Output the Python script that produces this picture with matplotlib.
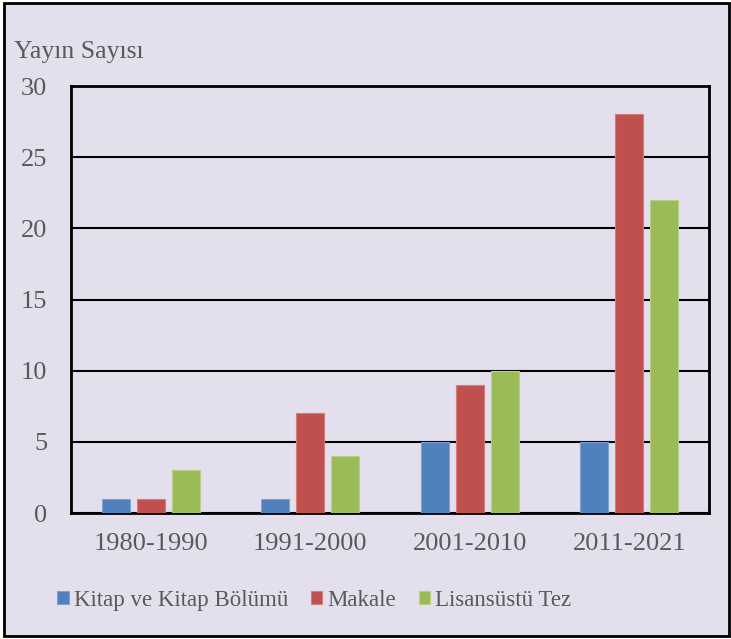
import matplotlib.pyplot as plt
from matplotlib.patches import Rectangle
import numpy as np

# data
periods = ["1980-1990", "1991-2000", "2001-2010", "2011-2021"]
kitap = [1, 1, 5, 5]
makale = [1, 7, 9, 28]
tez = [3, 4, 10, 22]
series_names = ["Kitap ve Kitap Bölümü", "Makale", "Lisansüstü Tez"]
colors = ["#4F81BD", "#C0504D", "#9BBB59"]
edge_colors = ["#7FA3D1", "#D27D7B", "#B7CF86"]

bg = "#E4DFEC"
txt = "#595959"

plt.rcParams['font.family'] = ['Liberation Serif', 'DejaVu Serif']

fig = plt.figure(figsize=(7.31, 6.39), dpi=100, facecolor="white")
# outer frame, drawn under the axes
fig.patches.append(Rectangle((0.006, 0.004), 0.991, 0.991, transform=fig.transFigure,
                             facecolor=bg, edgecolor="black", linewidth=2, zorder=-1))

ax = fig.add_axes([0.0971, 0.197, 0.8729, 0.6684])
ax.patch.set_alpha(0)

x = np.arange(len(periods))
w = 0.175
step = 0.22
handles = []
for i, (vals, name) in enumerate(zip([kitap, makale, tez], series_names)):
    b = ax.bar(x + (i - 1) * step, vals, width=w, color=colors[i],
               edgecolor=edge_colors[i], linewidth=0.8, label=name, zorder=3)
    handles.append(b)

ax.set_xlim(-0.5, len(periods) - 0.5)
ax.set_ylim(0, 30)
ax.set_yticks(range(0, 31, 5))
ax.set_xticks(x)
ax.set_xticklabels(periods)
ax.yaxis.grid(True, color="black", linewidth=1.5)
ax.set_axisbelow(True)
for s in ax.spines.values():
    s.set_color("black")
    s.set_linewidth(2)
ax.tick_params(axis="y", length=0, pad=17, labelsize=19, labelcolor=txt)
ax.tick_params(axis="x", length=0, pad=14, labelsize=19, labelcolor=txt)

fig.text(0.019, 0.918, "Yayın Sayısı", fontsize=18.5, color=txt, va="center", ha="left")

leg = fig.legend(handles=handles, labels=series_names, loc="center",
                 bbox_to_anchor=(0.43, 0.061), ncol=3, frameon=False,
                 fontsize=16.5, handlelength=0.5, handleheight=0.5,
                 handletextpad=0.22, columnspacing=1.0, labelcolor=txt)

fig.savefig("out.png", dpi=100, facecolor="white")
